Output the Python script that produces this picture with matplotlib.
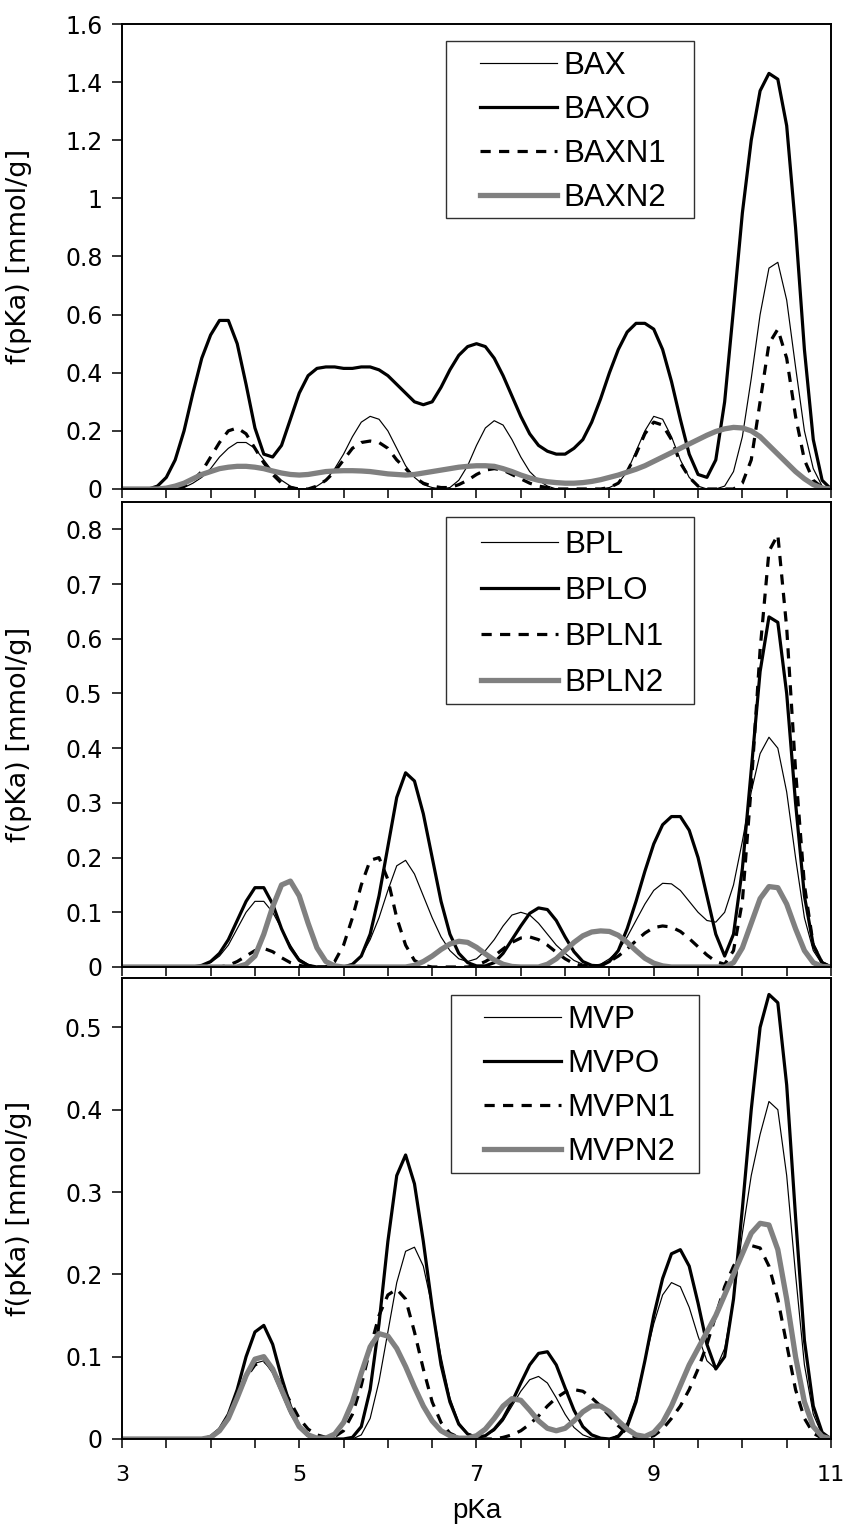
import numpy as np
import matplotlib
matplotlib.use("Agg")
import matplotlib.pyplot as plt
from matplotlib.ticker import MultipleLocator
from matplotlib.patches import Rectangle

plt.rcParams['font.family'] = ['DejaVu Sans']

# pKa grid (step 0.1 from 3 to 11)
pka = [round(3 + 0.1 * i, 1) for i in range(81)]

# ---------------- Panel 1 ----------------
bax = [0, 0, 0, 0, 0, 0, 0, 0.005, 0.02, 0.04,
       0.07, 0.11, 0.14, 0.16, 0.16, 0.14, 0.10, 0.06, 0.03, 0.01,
       0.0, 0.0, 0.01, 0.03, 0.07, 0.12, 0.18, 0.23, 0.25, 0.24,
       0.20, 0.14, 0.08, 0.04, 0.015, 0.005, 0.0, 0.005, 0.03, 0.08,
       0.15, 0.21, 0.235, 0.22, 0.17, 0.11, 0.06, 0.03, 0.01, 0,
       0, 0, 0, 0, 0, 0.005, 0.02, 0.06, 0.13, 0.20,
       0.25, 0.24, 0.18, 0.10, 0.04, 0.01, 0, 0, 0.01, 0.06,
       0.18, 0.38, 0.60, 0.76, 0.78, 0.65, 0.42, 0.20, 0.07, 0.01,
       0]
baxo = [0, 0, 0, 0, 0.01, 0.04, 0.10, 0.20, 0.33, 0.45,
        0.53, 0.58, 0.58, 0.50, 0.36, 0.21, 0.12, 0.11, 0.15, 0.24,
        0.33, 0.39, 0.415, 0.42, 0.42, 0.415, 0.415, 0.42, 0.42, 0.41,
        0.39, 0.36, 0.33, 0.30, 0.29, 0.30, 0.35, 0.41, 0.46, 0.49,
        0.50, 0.49, 0.45, 0.39, 0.32, 0.25, 0.19, 0.15, 0.13, 0.12,
        0.12, 0.14, 0.17, 0.23, 0.31, 0.40, 0.48, 0.54, 0.57, 0.57,
        0.55, 0.48, 0.37, 0.24, 0.12, 0.05, 0.04, 0.10, 0.30, 0.62,
        0.95, 1.20, 1.37, 1.43, 1.41, 1.25, 0.90, 0.48, 0.17, 0.03,
        0]
baxn1 = [0, 0, 0, 0, 0, 0, 0, 0.01, 0.03, 0.06,
         0.11, 0.16, 0.20, 0.21, 0.19, 0.14, 0.09, 0.05, 0.02, 0.005,
         0, 0, 0.01, 0.03, 0.06, 0.10, 0.14, 0.16, 0.165, 0.16,
         0.14, 0.10, 0.07, 0.04, 0.02, 0.01, 0.005, 0.005, 0.015, 0.03,
         0.05, 0.065, 0.07, 0.065, 0.05, 0.035, 0.02, 0.01, 0.005, 0,
         0, 0, 0, 0, 0, 0.005, 0.02, 0.06, 0.12, 0.19,
         0.23, 0.22, 0.17, 0.09, 0.04, 0.01, 0, 0, 0, 0,
         0.02, 0.10, 0.30, 0.50, 0.55, 0.45, 0.25, 0.10, 0.03, 0.005,
         0]
baxn2 = [0, 0, 0, 0, 0, 0.003, 0.01, 0.02, 0.035, 0.05,
         0.06, 0.07, 0.075, 0.078, 0.078, 0.075, 0.07, 0.062, 0.055, 0.05,
         0.048, 0.05, 0.055, 0.06, 0.062, 0.063, 0.063, 0.062, 0.06, 0.056,
         0.052, 0.05, 0.048, 0.05, 0.055, 0.06, 0.065, 0.07, 0.075, 0.078,
         0.08, 0.08, 0.078, 0.07, 0.06, 0.048, 0.038, 0.03, 0.025, 0.022,
         0.02, 0.02, 0.022, 0.026, 0.032, 0.04, 0.048, 0.058, 0.068, 0.08,
         0.095, 0.11, 0.125, 0.14, 0.155, 0.17, 0.185, 0.198, 0.207, 0.212,
         0.21, 0.20, 0.18, 0.15, 0.12, 0.09, 0.06, 0.035, 0.015, 0.003,
         0]

# ---------------- Panel 2 ----------------
bpl = [0, 0, 0, 0, 0, 0, 0, 0, 0, 0.002,
       0.008, 0.02, 0.04, 0.07, 0.10, 0.12, 0.12, 0.10, 0.07, 0.04,
       0.015, 0.005, 0, 0, 0, 0, 0.005, 0.02, 0.05, 0.09,
       0.14, 0.185, 0.195, 0.17, 0.13, 0.09, 0.055, 0.03, 0.015, 0.01,
       0.015, 0.03, 0.05, 0.075, 0.095, 0.10, 0.095, 0.08, 0.06, 0.04,
       0.025, 0.012, 0.005, 0.003, 0.005, 0.015, 0.03, 0.055, 0.085, 0.115,
       0.14, 0.153, 0.152, 0.14, 0.12, 0.10, 0.085, 0.082, 0.10, 0.15,
       0.23, 0.32, 0.39, 0.42, 0.40, 0.32, 0.20, 0.09, 0.03, 0.005,
       0]
bplo = [0, 0, 0, 0, 0, 0, 0, 0, 0, 0.003,
        0.01, 0.025, 0.05, 0.085, 0.12, 0.145, 0.145, 0.115, 0.07, 0.035,
        0.012, 0.003, 0, 0, 0, 0, 0.005, 0.02, 0.06, 0.13,
        0.22, 0.31, 0.355, 0.34, 0.28, 0.20, 0.12, 0.06, 0.025, 0.008,
        0.002, 0.002, 0.008, 0.025, 0.05, 0.075, 0.098, 0.108, 0.105, 0.085,
        0.055, 0.028, 0.01, 0.003, 0.002, 0.01, 0.03, 0.07, 0.12, 0.175,
        0.225, 0.26, 0.275, 0.275, 0.25, 0.20, 0.13, 0.06, 0.02, 0.06,
        0.18, 0.36, 0.54, 0.64, 0.63, 0.50, 0.30, 0.13, 0.04, 0.008,
        0]
bpln1 = [0, 0, 0, 0, 0, 0, 0, 0, 0, 0,
         0, 0, 0.003, 0.01, 0.02, 0.03, 0.034, 0.028, 0.017, 0.008,
         0.003, 0, 0, 0, 0.01, 0.04, 0.09, 0.15, 0.195, 0.20,
         0.16, 0.09, 0.04, 0.012, 0.003, 0, 0, 0, 0, 0,
         0.003, 0.01, 0.02, 0.033, 0.045, 0.053, 0.055, 0.05, 0.04, 0.027,
         0.015, 0.006, 0.002, 0, 0.003, 0.01, 0.02, 0.033, 0.048, 0.062,
         0.072, 0.075, 0.073, 0.065, 0.052, 0.037, 0.022, 0.01, 0.005, 0.03,
         0.12, 0.33, 0.58, 0.76, 0.79, 0.62, 0.36, 0.15, 0.04, 0.008,
         0]
bpln2 = [0, 0, 0, 0, 0, 0, 0, 0, 0, 0,
         0, 0, 0, 0, 0.005, 0.02, 0.06, 0.11, 0.15, 0.157,
         0.13, 0.08, 0.035, 0.01, 0.002, 0, 0, 0, 0, 0,
         0, 0, 0, 0.003, 0.01, 0.02, 0.032, 0.042, 0.047, 0.045,
         0.036, 0.024, 0.013, 0.005, 0.001, 0, 0, 0, 0.005, 0.015,
         0.03, 0.045, 0.057, 0.064, 0.066, 0.065, 0.058, 0.045, 0.03, 0.016,
         0.007, 0.002, 0, 0, 0, 0, 0, 0, 0, 0.008,
         0.035, 0.08, 0.125, 0.147, 0.145, 0.115, 0.07, 0.03, 0.008, 0.001,
         0]

# ---------------- Panel 3 ----------------
mvp = [0, 0, 0, 0, 0, 0, 0, 0, 0, 0,
       0.003, 0.01, 0.025, 0.05, 0.075, 0.092, 0.095, 0.08, 0.055, 0.03,
       0.013, 0.004, 0.001, 0, 0, 0, 0, 0.005, 0.025, 0.07,
       0.13, 0.19, 0.228, 0.233, 0.21, 0.16, 0.10, 0.05, 0.02, 0.007,
       0.003, 0.004, 0.01, 0.022, 0.04, 0.058, 0.072, 0.076, 0.068, 0.05,
       0.03, 0.014, 0.005, 0.001, 0, 0, 0.005, 0.02, 0.05, 0.095,
       0.14, 0.175, 0.19, 0.185, 0.16, 0.125, 0.095, 0.085, 0.11, 0.17,
       0.25, 0.32, 0.37, 0.41, 0.40, 0.32, 0.20, 0.09, 0.03, 0.005,
       0]
mvpo = [0, 0, 0, 0, 0, 0, 0, 0, 0, 0,
        0.003, 0.012, 0.03, 0.06, 0.10, 0.13, 0.138, 0.115, 0.075, 0.04,
        0.015, 0.004, 0, 0, 0, 0, 0.002, 0.015, 0.06, 0.14,
        0.24, 0.32, 0.345, 0.31, 0.24, 0.16, 0.09, 0.045, 0.018, 0.006,
        0.002, 0.004, 0.012, 0.025, 0.045, 0.068, 0.09, 0.104, 0.106, 0.09,
        0.062, 0.035, 0.015, 0.005, 0.001, 0, 0.003, 0.015, 0.045, 0.095,
        0.15, 0.195, 0.225, 0.23, 0.21, 0.165, 0.115, 0.085, 0.10, 0.17,
        0.28, 0.40, 0.50, 0.54, 0.53, 0.43, 0.27, 0.12, 0.04, 0.008,
        0]
mvpn1 = [0, 0, 0, 0, 0, 0, 0, 0, 0, 0,
         0.003, 0.01, 0.025, 0.05, 0.075, 0.09, 0.095, 0.085, 0.065, 0.045,
         0.025, 0.012, 0.005, 0.002, 0.003, 0.01, 0.03, 0.065, 0.11, 0.15,
         0.175, 0.182, 0.17, 0.13, 0.085, 0.045, 0.02, 0.007, 0.002, 0,
         0, 0, 0, 0.002, 0.005, 0.01, 0.018, 0.028, 0.04, 0.05,
         0.057, 0.06, 0.058, 0.05, 0.04, 0.028, 0.016, 0.007, 0.002, 0.001,
         0.004, 0.012, 0.025, 0.04, 0.06, 0.085, 0.115, 0.15, 0.185, 0.21,
         0.228, 0.235, 0.232, 0.21, 0.17, 0.115, 0.06, 0.025, 0.007, 0.001,
         0]
mvpn2 = [0, 0, 0, 0, 0, 0, 0, 0, 0, 0,
         0.002, 0.01, 0.025, 0.05, 0.077, 0.097, 0.10, 0.085, 0.06, 0.035,
         0.015, 0.005, 0.001, 0.001, 0.006, 0.02, 0.045, 0.08, 0.112, 0.128,
         0.125, 0.11, 0.088, 0.063, 0.04, 0.022, 0.01, 0.004, 0.001, 0.001,
         0.004, 0.012, 0.025, 0.04, 0.049, 0.047, 0.035, 0.022, 0.013, 0.01,
         0.013, 0.022, 0.033, 0.04, 0.04, 0.033, 0.022, 0.012, 0.005, 0.003,
         0.008, 0.02, 0.04, 0.065, 0.09, 0.11, 0.13, 0.15, 0.175, 0.20,
         0.225, 0.25, 0.262, 0.26, 0.23, 0.17, 0.10, 0.045, 0.015, 0.003,
         0]

labels1 = ["BAX", "BAXO", "BAXN1", "BAXN2"]
labels2 = ["BPL", "BPLO", "BPLN1", "BPLN2"]
labels3 = ["MVP", "MVPO", "MVPN1", "MVPN2"]
ylims = [1.6, 0.85, 0.56]
ysteps = [0.2, 0.1, 0.1]
xticks = [3, 5, 7, 9, 11]

W, H = 845, 1525
fig = plt.figure(figsize=(W / 100, H / 100), dpi=100)

def px_axes(left, top, right, bottom):
    return fig.add_axes([left / W, 1 - bottom / H, (right - left) / W, (bottom - top) / H])

styles = [
    dict(color='black', lw=0.85, ls='-'),
    dict(color='black', lw=2.3, ls='-'),
    dict(color='black', lw=2.3, ls=(0, (3.2, 2.6))),
    dict(color='#808080', lw=3.8, ls='-'),
]

# axes boxes (pixels: left, top, right, bottom), legend frame boxes and row info
panels = [
    dict(box=(122, 24, 831, 489), data=[bax, baxo, baxn1, baxn2], labels=labels1,
         frame=(446, 41, 694, 218), hx=480, row1=64, gap=44),
    dict(box=(122, 502, 831, 967), data=[bpl, bplo, bpln1, bpln2], labels=labels2,
         frame=(446, 517, 694, 704), hx=481, row1=543, gap=46),
    dict(box=(122, 978, 831, 1439), data=[mvp, mvpo, mvpn1, mvpn2], labels=labels3,
         frame=(451, 995, 699, 1173), hx=484, row1=1018, gap=44),
]

def fmt(v):
    if abs(v) < 1e-9:
        return "0"
    s = f"{v:.1f}"
    if s.endswith(".0"):
        s = s[:-2]
    return s

LEG_PT = 22.5
leg_px = LEG_PT * 100 / 72.0
row_h = 30.0

for k, p in enumerate(panels):
    ax = px_axes(*p['box'])
    lines = []
    for j in range(4):
        ln, = ax.plot(pka, p['data'][j], label=p['labels'][j], zorder=2 + j * 0.1, **styles[j])
        lines.append(ln)
    ax.set_xlim(3, 11)
    ax.set_ylim(0, ylims[k])
    ax.xaxis.set_major_locator(MultipleLocator(2))
    ax.xaxis.set_minor_locator(MultipleLocator(0.5))
    yt = np.arange(0, ylims[k] + 1e-9, ysteps[k])
    ax.set_yticks(yt)
    ax.set_yticklabels([fmt(v) for v in yt])
    ax.tick_params(axis='y', direction='out', length=7, width=1.1, labelsize=17, pad=7)
    ax.tick_params(axis='x', which='both', direction='out', length=6.5, width=1.1)
    for sp in ax.spines.values():
        sp.set_linewidth(1.4)
        sp.set_color('black')
    if k < 2:
        ax.set_xticklabels([])
    else:
        ax.set_xticks(xticks)
        ax.set_xticklabels([str(v) for v in xticks])
        ax.tick_params(axis='x', which='major', labelsize=16, pad=12)
    ax.set_ylabel("f(pKa) [mmol/g]", fontsize=19.5)
    l, t, r, b = p['box']
    ax.yaxis.set_label_coords(32 / W, 1 - ((t + b) / 2) / H, transform=fig.transFigure)

    # legend frame drawn as a rectangle (above data), legend content above it
    fl, ft, fr, fb = p['frame']
    rect = Rectangle((fl / W, 1 - fb / H), (fr - fl) / W, (fb - ft) / H,
                     transform=fig.transFigure, facecolor='white', edgecolor='#303030',
                     linewidth=1.0, zorder=4, clip_on=False)
    ax.add_patch(rect)

    ls = (p['gap'] - row_h) / leg_px
    top_y = p['row1'] - row_h / 2 + 2
    leg = ax.legend(lines, p['labels'], loc='upper left',
                    bbox_to_anchor=(p['hx'] / W, 1 - top_y / H), bbox_transform=fig.transFigure,
                    prop={'family': 'Liberation Sans', 'size': LEG_PT}, frameon=False,
                    handlelength=77 / leg_px, handletextpad=6 / leg_px,
                    labelspacing=ls, borderpad=0, borderaxespad=0)
    leg.set_zorder(6)

# x-axis title
fig.text((122 + 831) / 2 / W, 1 - 1518 / H, "pKa", ha='center', va='baseline',
         fontsize=20, family='Liberation Sans')

fig.savefig("out.png", dpi=100)
